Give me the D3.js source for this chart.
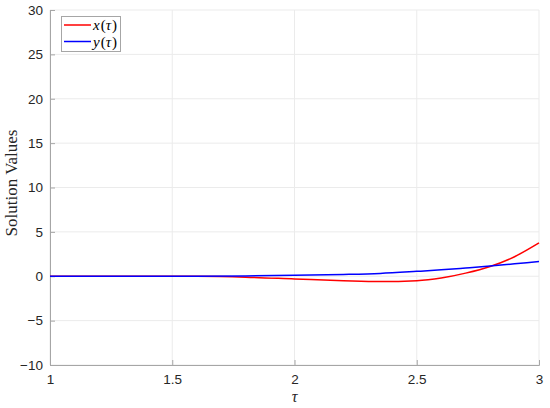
<!DOCTYPE html>
<html>
<head>
<meta charset="utf-8">
<script src="https://cdn.jsdelivr.net/npm/d3@7"></script>
<style>
  body { margin: 0; background: #fff; }
  svg { display: block; }
  .tick text { font-family: "Liberation Sans", Arial, sans-serif; font-size: 13.5px; fill: #262626; }
</style>
</head>
<body>
<div id="chart"></div>
<script>
// valores
var tau    = [1.0, 1.2, 1.4, 1.6, 1.8, 2.0, 2.2, 2.35, 2.5, 2.6, 2.7, 2.8, 2.9, 3.0];
var xVals  = [0, 0, 0, -0.01, -0.1, -0.3, -0.5, -0.6, -0.5, -0.2, 0.35, 1.1, 2.2, 3.75];
var yVals  = [0, 0, 0, 0.01, 0.04, 0.1, 0.2, 0.32, 0.55, 0.72, 0.93, 1.15, 1.4, 1.65];
var xTicks = [1, 1.5, 2, 2.5, 3];
var yTicks = [-10, -5, 0, 5, 10, 15, 20, 25, 30];

var width = 550, height = 408;
var margin = {left: 50, right: 11, top: 10, bottom: 43};

var svg = d3.select("#chart").append("svg")
    .attr("width", width)
    .attr("height", height);

var x = d3.scaleLinear().domain([1, 3]).range([margin.left, width - margin.right]);
var y = d3.scaleLinear().domain([-10, 30]).range([height - margin.bottom, margin.top]);

// rejilla
svg.append("g").selectAll("line.vg")
    .data(xTicks).enter().append("line")
    .attr("x1", function(d) { return x(d); }).attr("x2", function(d) { return x(d); })
    .attr("y1", y(-10)).attr("y2", y(30))
    .attr("stroke", "#ebebeb").attr("stroke-width", 1);
svg.append("g").selectAll("line.hg")
    .data(yTicks).enter().append("line")
    .attr("y1", function(d) { return y(d); }).attr("y2", function(d) { return y(d); })
    .attr("x1", x(1)).attr("x2", x(3))
    .attr("stroke", "#ebebeb").attr("stroke-width", 1);

// ejes
var xAxis = svg.append("g")
    .attr("transform", "translate(0," + y(-10) + ")")
    .call(d3.axisBottom(x).tickValues(xTicks).tickSize(-5).tickPadding(9)
        .tickFormat(function(d) { return String(d); }));
var yAxis = svg.append("g")
    .attr("transform", "translate(" + x(1) + ",0)")
    .call(d3.axisLeft(y).tickValues(yTicks).tickSize(-5).tickPadding(7)
        .tickFormat(function(d) { return d < 0 ? "\u2212" + Math.abs(d) : String(d); }));
[xAxis, yAxis].forEach(function(a) {
  a.select(".domain").attr("stroke", "#a6a6a6");
  a.selectAll(".tick line").attr("stroke", "#a6a6a6");
});

// curvas
var lineGen = function(vals) {
  return d3.line()
    .x(function(d, i) { return x(tau[i]); })
    .y(function(d) { return y(d); })
    .curve(d3.curveMonotoneX)(vals);
};
svg.append("path").attr("d", lineGen(xVals))
    .attr("fill", "none").attr("stroke", "#ff0000").attr("stroke-width", 1.5);
svg.append("path").attr("d", lineGen(yVals))
    .attr("fill", "none").attr("stroke", "#0000ff").attr("stroke-width", 1.5);

// etiquetas
svg.append("text")
    .attr("x", x(2)).attr("y", 402)
    .attr("text-anchor", "middle")
    .attr("font-family", "Liberation Serif, Times New Roman, serif")
    .attr("font-style", "italic")
    .attr("font-size", 16).attr("fill", "#262626")
    .text("\u03c4");
svg.append("text")
    .attr("transform", "translate(17,183) rotate(-90)")
    .attr("text-anchor", "middle")
    .attr("font-family", "Liberation Serif, Times New Roman, serif")
    .attr("font-size", 17).attr("fill", "#262626")
    .text("Solution Values");

// leyenda
var legend = svg.append("g");
legend.append("rect")
    .attr("x", 61.5).attr("y", 16.5).attr("width", 59).attr("height", 35)
    .attr("fill", "#fff").attr("stroke", "#a6a6a6").attr("stroke-width", 1);
var items = [{name: "x", color: "#ff0000"}, {name: "y", color: "#0000ff"}];
items.forEach(function(it, i) {
  var yy = 25 + i * 16.5;
  legend.append("line")
      .attr("x1", 64).attr("x2", 91).attr("y1", yy).attr("y2", yy)
      .attr("stroke", it.color).attr("stroke-width", 1.5);
  var t = legend.append("text")
      .attr("x", 93).attr("y", yy + 5)
      .attr("font-family", "Liberation Serif, Times New Roman, serif")
      .attr("font-size", 15).attr("fill", "#000");
  t.append("tspan").attr("font-style", "italic").text(it.name);
  t.append("tspan").attr("dx", 1).text("(");
  t.append("tspan").attr("font-style", "italic").text("\u03c4");
  t.append("tspan").attr("dx", 1).text(")");
});
</script>
</body>
</html>
